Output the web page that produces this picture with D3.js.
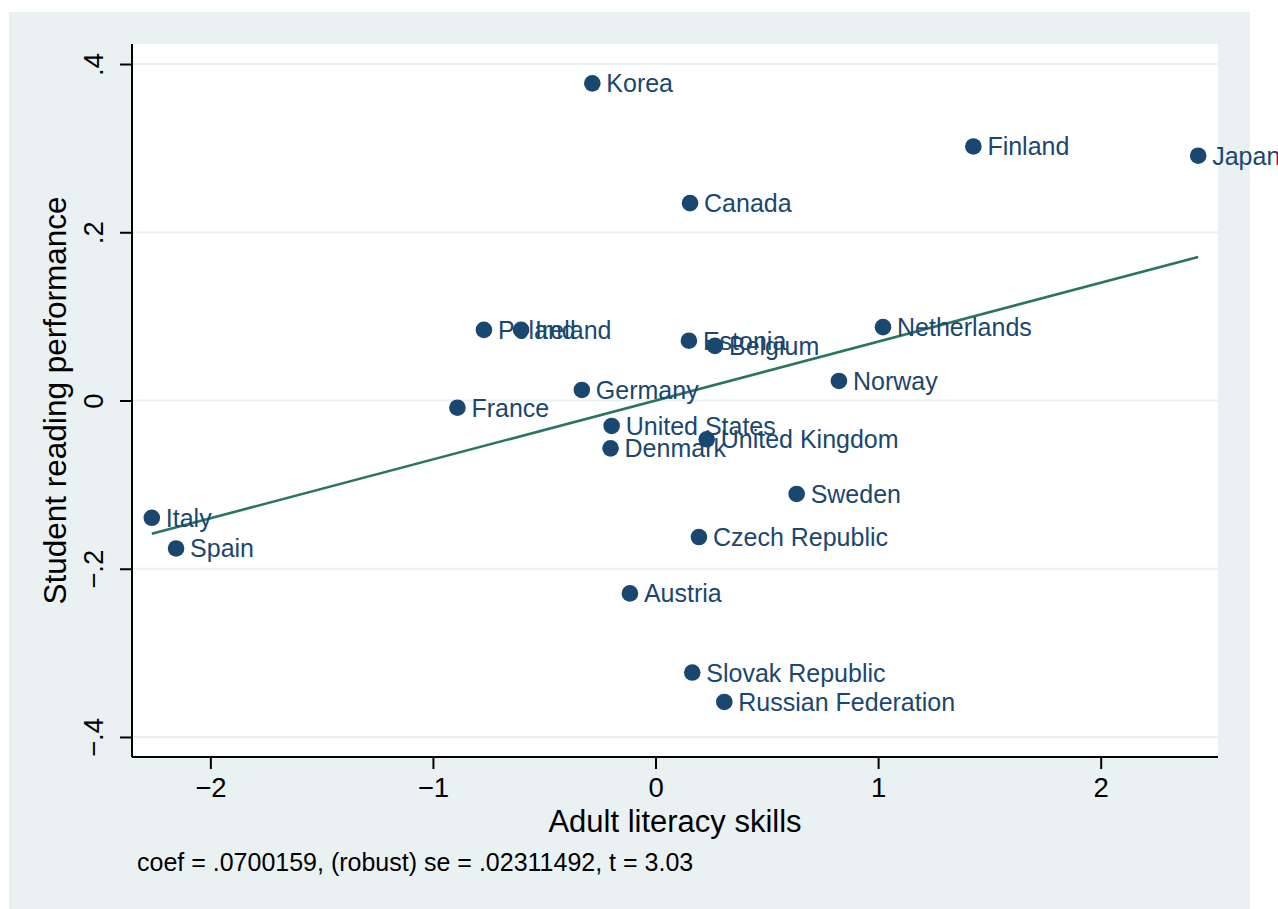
<!DOCTYPE html>
<html>
<head>
<meta charset="utf-8">
<script src="https://cdnjs.cloudflare.com/ajax/libs/d3/7.8.5/d3.min.js"></script>
<style>
    body { margin: 0; background: #fff; }
    text { font-family: "Liberation Sans", Arial, Helvetica, sans-serif; }
</style>
</head>
<body>
<div id="chart"></div>
<script>
// countries and their (adult literacy, student reading) residuals
var countries = ['Korea', 'Finland', 'Japan', 'Canada', 'Poland', 'Ireland', 'Estonia', 'Belgium',
    'Netherlands', 'Norway', 'Germany', 'France', 'United States', 'United Kingdom', 'Denmark',
    'Sweden', 'Italy', 'Spain', 'Czech Republic', 'Austria', 'Slovak Republic', 'Russian Federation'];
var literacy = [-0.284, 1.428, 2.438, 0.155, -0.771, -0.604, 0.150, 0.267,
    1.022, 0.824, -0.331, -0.890, -0.197, 0.230, -0.202,
    0.634, -2.263, -2.154, 0.195, -0.115, 0.165, 0.309];
var reading = [0.377, 0.302, 0.291, 0.2346, 0.0839, 0.0839, 0.0711, 0.0649,
    0.0872, 0.0232, 0.0125, -0.0086, -0.0303, -0.0461, -0.0569,
    -0.1111, -0.1394, -0.1759, -0.1623, -0.2293, -0.3234, -0.3584];

var xTicks = [-2, -1, 0, 1, 2];
var yTicks = [-0.4, -0.2, 0, 0.2, 0.4];
var yTickLabels = ['\u2212.4', '\u2212.2', '0', '.2', '.4'];

var fitCoef = 0.0700159;
var fitIntercept = 0;
var noteText = 'coef = .0700159, (robust) se = .02311492, t = 3.03';

function avPlot(parentId) {

    let width = 1278;
    let height = 909;
    let bg = '#eaf1f3';
    let navy = '#1a476f';

    let plot = { left: 132, right: 1218, top: 44, bottom: 757 };

    let svg = d3.select('#' + parentId).append('svg')
        .attr('width', width)
        .attr('height', height);

    // outer graph region
    svg.append('rect')
        .attr('x', 9).attr('y', 12)
        .attr('width', 1241).attr('height', height - 12)
        .style('fill', bg);

    // inner plot region
    svg.append('rect')
        .attr('x', plot.left).attr('y', plot.top)
        .attr('width', plot.right - plot.left).attr('height', plot.bottom - plot.top)
        .style('fill', '#fff');

    let xScale = d3.scaleLinear()
        .domain([-2.352, 2.527])
        .range([plot.left, plot.right]);
    let yScale = d3.scaleLinear()
        .domain([-0.4238, 0.4238])
        .range([plot.bottom, plot.top]);

    // horizontal grid
    svg.append('g').selectAll('line')
        .data(yTicks)
        .enter().append('line')
        .attr('x1', plot.left).attr('x2', plot.right)
        .attr('y1', function (d) { return yScale(d); })
        .attr('y2', function (d) { return yScale(d); })
        .style('stroke', bg)
        .style('stroke-width', 2);

    // axes
    var xAxis = d3.axisBottom(xScale)
        .tickValues(xTicks)
        .tickSize(12)
        .tickPadding(8)
        .tickFormat(function (d) { return d < 0 ? '\u2212' + Math.abs(d) : d; });

    var yAxis = d3.axisLeft(yScale)
        .tickValues(yTicks)
        .tickSize(12)
        .tickFormat(function (d, i) { return yTickLabels[i]; });

    let xg = svg.append('g')
        .attr('transform', 'translate(0,' + plot.bottom + ')')
        .call(xAxis);
    xg.select('.domain').attr('d', 'M' + plot.left + ',0H' + plot.right);

    let yg = svg.append('g')
        .attr('transform', 'translate(' + plot.left + ',0)')
        .call(yAxis);
    yg.select('.domain').attr('d', 'M0,' + plot.top + 'V' + plot.bottom);

    svg.selectAll('.domain, .tick line')
        .style('stroke', '#000')
        .style('stroke-width', 2);

    xg.selectAll('.tick text')
        .style('font-size', '27.5px')
        .style('fill', '#000');

    yg.selectAll('.tick text')
        .attr('x', null).attr('dy', null)
        .attr('transform', 'translate(-29,0) rotate(-90)')
        .attr('text-anchor', 'middle')
        .style('font-size', '27.5px')
        .style('fill', '#000');

    // fitted line
    let xExt = d3.extent(literacy);
    svg.append('line')
        .attr('x1', xScale(xExt[0]))
        .attr('y1', yScale(fitIntercept + fitCoef * xExt[0]))
        .attr('x2', xScale(xExt[1]))
        .attr('y2', yScale(fitIntercept + fitCoef * xExt[1]))
        .style('stroke', '#2a7462')
        .style('stroke-width', 2.6);

    // markers and labels
    let pts = countries.map(function (c, i) {
        return { name: c, x: literacy[i], y: reading[i] };
    });

    let ptG = svg.append('g');
    ptG.selectAll('circle')
        .data(pts)
        .enter().append('circle')
        .attr('cx', function (d) { return xScale(d.x); })
        .attr('cy', function (d) { return yScale(d.y); })
        .attr('r', 8.3)
        .style('fill', navy);

    ptG.selectAll('text')
        .data(pts)
        .enter().append('text')
        .attr('x', function (d) { return xScale(d.x) + 14; })
        .attr('y', function (d) { return yScale(d.y); })
        .attr('dy', '0.36em')
        .style('font-size', '25px')
        .style('fill', navy)
        .text(function (d) { return d.name; });

    // titles
    svg.append('text')
        .attr('x', (plot.left + plot.right) / 2)
        .attr('y', 832)
        .attr('text-anchor', 'middle')
        .style('font-size', '31px')
        .style('fill', '#000')
        .text('Adult literacy skills');

    svg.append('text')
        .attr('transform', 'translate(66,' + (plot.top + plot.bottom) / 2 + ') rotate(-90)')
        .attr('text-anchor', 'middle')
        .style('font-size', '31.5px')
        .style('fill', '#000')
        .text('Student reading performance');

    svg.append('text')
        .attr('x', 137)
        .attr('y', 871)
        .style('font-size', '25px')
        .style('fill', '#000')
        .text(noteText);
}

avPlot('chart');
</script>
</body>
</html>
